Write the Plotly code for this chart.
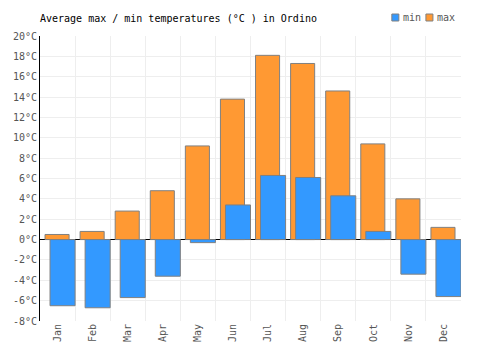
import plotly.graph_objects as go

months = ["Jan", "Feb", "Mar", "Apr", "May", "Jun", "Jul", "Aug", "Sep", "Oct", "Nov", "Dec"]
t_max = [0.5, 0.8, 2.8, 4.8, 9.2, 13.8, 18.1, 17.3, 14.6, 9.4, 4.0, 1.2]
t_min = [-6.5, -6.7, -5.7, -3.6, -0.3, 3.4, 6.3, 6.1, 4.3, 0.8, -3.4, -5.6]
y_ticks = list(range(-8, 21, 2))
y_labels = [f"{v}°C" for v in y_ticks]
series_names = ["min", "max"]
series_colors = ["#3399ff", "#ff9933"]

FONT = "DejaVu Sans Mono"
W, H = 500, 350

fig = go.Figure()
fig.add_trace(go.Bar(
    x=months, y=t_max, name="max", showlegend=False,
    marker=dict(color=series_colors[1], line=dict(color="#808080", width=1)),
    width=0.686, offset=-0.357,
))
fig.add_trace(go.Bar(
    x=months, y=t_min, name="min", showlegend=False,
    marker=dict(color=series_colors[0], line=dict(color="#808080", width=1)),
    width=0.714, offset=-0.214,
))

# compact legend (box + label), top right
legend_x = [391, 425]
shapes = []
annotations = []
for name, color, px in zip(series_names, series_colors, legend_x):
    shapes.append(dict(type="rect", xref="paper", yref="paper",
                       x0=(px - 40) / 420, x1=(px + 7 - 40) / 420,
                       y0=(H - 29 - 21) / 285, y1=(H - 29 - 14) / 285,
                       fillcolor=color, line=dict(color="#808080", width=1)))
    annotations.append(dict(text=name, xref="paper", yref="paper",
                            x=(px + 9 - 40) / 420, y=(H - 29 - 17.5) / 285,
                            xanchor="left", yanchor="middle", showarrow=False,
                            font=dict(family=FONT, size=10, color="#555555")))

fig.update_layout(
    width=W, height=H,
    margin=dict(l=40, r=39, t=36, b=29, autoexpand=False),
    barmode="overlay",
    paper_bgcolor="white", plot_bgcolor="white",
    font=dict(family=FONT, size=10, color="#555555"),
    title=dict(text="Average max / min temperatures (°C ) in Ordino",
               x=40 / W, xanchor="left", y=1 - 18 / H, yanchor="middle",
               font=dict(family=FONT, size=10, color="#000000")),
    showlegend=False,
    shapes=shapes,
    annotations=annotations,
)
fig.update_xaxes(
    type="category", tickson="boundaries", showgrid=True, gridcolor="#eeeeee",
    tickangle=-90, ticks="", showline=False, range=[-0.5, 11.5],
    tickfont=dict(family=FONT, size=10, color="#555555"),
)
fig.update_yaxes(
    range=[-8, 20], tickvals=y_ticks, ticktext=y_labels, showgrid=True,
    gridcolor="#eeeeee", zeroline=True, zerolinecolor="#000000", zerolinewidth=1,
    showline=True, linecolor="#000000", linewidth=1,
    tickfont=dict(family=FONT, size=10, color="#555555"),
)
fig.write_html("out.html")
